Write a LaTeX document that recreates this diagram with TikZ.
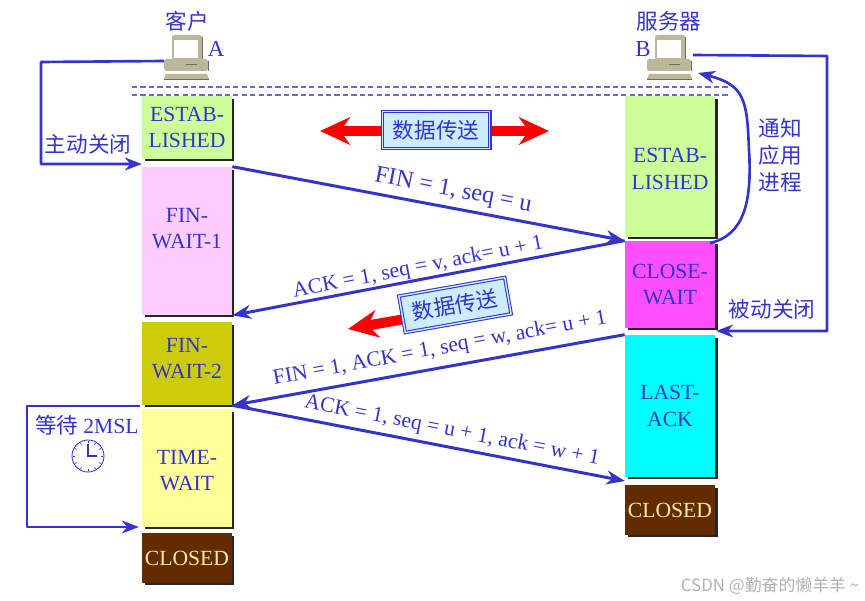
\documentclass[tikz,border=0pt]{standalone}
\usepackage{fontspec}
\setmainfont{Liberation Serif}
\newfontfamily\cjk{Noto Sans CJK SC}
\usetikzlibrary{arrows.meta, shadows}
\definecolor{tcpblue}{RGB}{52, 52, 205}
\definecolor{pcbody}{RGB}{186, 183, 155}
\definecolor{pcdark}{RGB}{110, 108, 90}
\definecolor{databox}{RGB}{204, 236, 255}
\definecolor{estabgreen}{RGB}{204, 255, 153}
\definecolor{finpink}{RGB}{255, 204, 255}
\definecolor{finolive}{RGB}{204, 204, 10}
\definecolor{timeyellow}{RGB}{255, 255, 153}
\definecolor{closemagenta}{RGB}{255, 80, 255}
\definecolor{lastcyan}{RGB}{0, 255, 255}
\definecolor{closedbrown}{RGB}{98, 44, 0}
\definecolor{closedtext}{RGB}{250, 236, 150}

\begin{document}
\begin{tikzpicture}[
          x=0.02cm, y=-0.02cm,
          statebox/.style={rectangle, fill=#1, minimum width=1.8cm, inner sep=0pt, align=center, text=tcpblue, font=\fontsize{12.3}{15}\selectfont, general shadow={fill=black!85, shadow xshift=0.05cm, shadow yshift=-0.05cm}},
          statetext/.style={text=tcpblue, inner sep=0pt, align=center, font=\fontsize{12.3}{15}\selectfont},
          closedbox/.style={statebox=closedbrown, text=closedtext, minimum height=1cm},
          msgline/.style={-Stealth, line width=1.7pt, tcpblue},
          msglabel/.style={text=tcpblue, inner sep=0pt, font=\fontsize{12.3}{14}\selectfont},
          cjklabel/.style={text=tcpblue, inner sep=0pt, align=center, font=\cjk\fontsize{12.3}{15.5}\selectfont},
          datalabel/.style={rectangle, fill=databox, draw=tcpblue, double=databox, double distance=0.8pt, line width=0.6pt, minimum width=2.15cm, minimum height=0.74cm, text=tcpblue, font=\cjk\fontsize{12.3}{14}\selectfont},
          dataflow/.style={red, line width=0.2cm},
          loopline/.style={-Stealth, line width=1.5pt, tcpblue, line join=round},
          computer/.pic={
            \fill[pcbody, rounded corners=1pt] (-15,-26) rectangle (15,0);
            \fill[pcdark] (15,-24) rectangle (16,0);
            \fill[white] (-13,-21) rectangle (11,-3);
            \fill[pcbody, rounded corners=1pt] (-23,-2) rectangle (21,10);
            \fill[pcdark] (21,0) rectangle (22,10);
            \fill[pcdark] (-1,3) rectangle (10,4.5);
            \fill[pcbody] (-21,13) -- (20,13) -- (22,18) -- (-23,18) -- cycle;
            \fill[pcdark] (-23,18) rectangle (22,19);
          },
          clockface/.pic={
            \draw[tcpblue, line width=0.5pt] (0,0) circle (16);
            \foreach \a in {0,30,...,330}
              \draw[tcpblue, line width=0.4pt] (\a:13) -- (\a:15);
            \draw[tcpblue, line width=0.9pt] (0,-12) -- (0,0) -- (9,0);
          }
        ]
          \useasboundingbox (0,0) rectangle (865,601);

          % Hosts
          \pic at (187,61) {computer};
          \pic at (670,61) {computer};
          \node[cjklabel] (client) at (187,21) {客户};
          \node[cjklabel] (server) at (669,21) {服务器};
          \node[msglabel, font=\fontsize{13}{14}\selectfont] (hosta) at (216,49) {A};
          \node[msglabel, font=\fontsize{13}{14}\selectfont] (hostb) at (643,49) {B};
          \coordinate (pcaout) at (164,61);
          \coordinate (pcbout) at (693,55);
          \coordinate (pcbin) at (698,73);

          % Dashed rules
          \coordinate (rulea) at (132,87);
          \coordinate (ruleb) at (729,87);
          \coordinate (rulec) at (132,95);
          \coordinate (ruled) at (729,95);
          \draw[tcpblue!75, line width=0.6pt, dash pattern=on 3pt off 1.8pt] (rulea) -- (ruleb);
          \draw[tcpblue!75, line width=0.6pt, dash pattern=on 3pt off 1.8pt] (rulec) -- (ruled);

          % Client states
          \node[statebox=estabgreen, minimum height=1.26cm] (estaba) at (187,127.5) {ESTAB-\\LISHED};
          \node[statebox=finpink, minimum height=2.96cm, label={[statetext, yshift=0.25cm]center:FIN-\\WAIT-1}] (finwaita) at (187,241) {};
          \node[statebox=finolive, minimum height=1.66cm, label={[statetext, yshift=0.1cm]center:FIN-\\WAIT-2}] (finwaitb) at (187,363.5) {};
          \node[statebox=timeyellow, minimum height=2.36cm, label={[statetext, yshift=-0.05cm]center:TIME-\\WAIT}] (timewait) at (187,468) {};
          \node[closedbox] (closeda) at (187,558) {CLOSED};

          % Server states
          \node[statebox=estabgreen, minimum height=2.82cm, label={[statetext, yshift=-0.05cm]center:ESTAB-\\LISHED}] (estabb) at (670,166.5) {};
          \node[statebox=closemagenta, minimum height=1.74cm] (closewait) at (670,284.5) {CLOSE-\\WAIT};
          \node[statebox=lastcyan, minimum height=2.84cm] (lastack) at (670,406) {LAST-\\ACK};
          \node[closedbox] (closedb) at (670,510) {CLOSED};

          % Data transfer
          \draw[dataflow, {Stealth[length=0.6cm,width=0.55cm]}-{Stealth[length=0.6cm,width=0.55cm]}] (320,131) -- (549,131);
          \node[datalabel] (dataa) at (436,130) {数据传送};
          \coordinate (flowend) at (348,329);
          \draw[dataflow, -{Stealth[length=0.6cm,width=0.55cm]}] (405,319) -- (flowend);
          \node[datalabel, rotate=10] (datab) at (455,305) {数据传送};

          % Messages
          \coordinate (ackend) at (625,481);
          \coordinate (notifyout) at (710,243);
          \draw[msgline] (finwaita.north east) -- (closewait.north west);
          \draw[msgline] (closewait.north west) -- (finwaita.south east);
          \draw[msgline] (lastack.north west) -- (finwaitb.south east);
          \draw[msgline] (finwaitb.south east) -- (ackend);
          \node[msglabel, rotate=-11, font=\fontsize{13.8}{14}\selectfont] (fina) at (453,191) {FIN = 1, seq = u};
          \node[msglabel, rotate=11] (acka) at (418,268) {ACK = 1, seq = v, ack= u + 1};
          \node[msglabel, rotate=10.5] (finb) at (440,349) {FIN = 1, ACK = 1, seq = w, ack= u + 1};
          \node[msglabel, rotate=-11] (ackb) at (452,431) {ACK = 1, seq = u + 1, ack = w + 1};

          % Side loops
          \coordinate (closein) at (142,164);
          \coordinate (passivein) at (716,331);
          \coordinate (waitout) at (140,406);
          \coordinate (waitin) at (139,527);
          \draw[loopline] (pcaout) -- (41,62) -- (41,164) -- (closein);
          \draw[loopline] (pcbout) -- (827,56) -- (827,331) -- (passivein);
          \draw[loopline] (waitout) -- (27,406) -- (27,527) -- (waitin);
          \draw[loopline] (notifyout) .. controls (745,235) and (752,200) .. (749,150) .. controls (747,100) and (745,85) .. (pcbin);
          \node[cjklabel] (activeclose) at (88,144) {主动关闭};
          \node[cjklabel] (passiveclose) at (772,309) {被动关闭};
          \node[cjklabel] (notifyapp) at (780,155) {通知\\应用\\进程};
          \node[cjklabel] (waitmsl) at (87,425) {等待 {\rmfamily 2MSL}};
          \pic at (88,456) {clockface};

          % Watermark
          \node[inner sep=0pt, text=gray!60, font=\cjk\fontsize{9.6}{10}\selectfont] (mark) at (770,586) {CSDN @勤奋的懒羊羊 \textasciitilde};
        \end{tikzpicture}
\end{document}
